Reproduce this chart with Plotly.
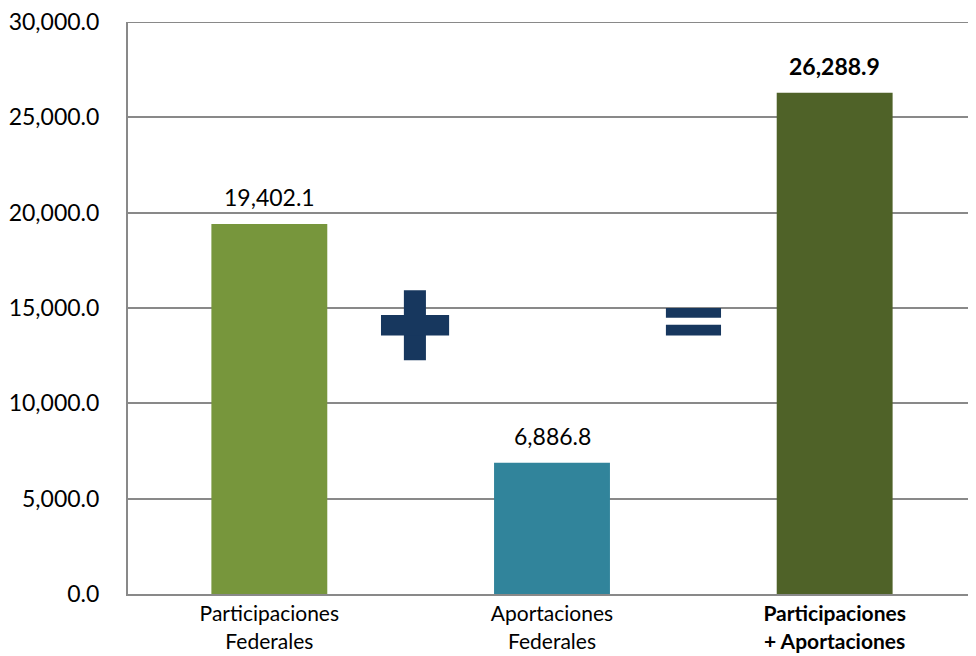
import plotly.graph_objects as go

categories = ["Participaciones<br>Federales", "Aportaciones<br>Federales", "<b>Participaciones</b><br><b>+ Aportaciones</b>"]
values = [19402.1, 6886.8, 26288.9]
value_labels = ["19,402.1", "6,886.8", "<b>26,288.9</b>"]
colors = ["#77963C", "#31849B", "#4F6228"]
tick_vals = [0, 5000, 10000, 15000, 20000, 25000, 30000]
tick_text = ["0.0", "5,000.0", "10,000.0", "15,000.0", "20,000.0", "25,000.0", "30,000.0"]

FONT = "Lato, Carlito, Calibri, sans-serif"
NAVY = "#17375E"
GRID = "#898989"
xpos = [0, 1, 2]

fig = go.Figure()
fig.add_trace(go.Bar(
    x=xpos, y=values, marker=dict(color=colors, line=dict(width=0)),
    width=0.41, hoverinfo="skip",
))

for xi, v, lab in zip(xpos, values, value_labels):
    fig.add_annotation(x=xi, y=v, text=lab, showarrow=False, yanchor="bottom",
                       yshift=11, font=dict(size=23, color="#000000", family=FONT))

# top gridline (at the edge of the range)
fig.add_shape(type="line", xref="paper", yref="y", x0=0, x1=1,
              y0=tick_vals[-1], y1=tick_vals[-1], line=dict(color=GRID, width=2), layer="below")

# plus sign
fig.add_shape(type="rect", xref="x", yref="y", x0=0.476, x1=0.554, y0=12259, y1=15931,
              fillcolor=NAVY, line=dict(width=0), layer="above")
fig.add_shape(type="rect", xref="x", yref="y", x0=0.395, x1=0.636, y0=13552, y1=14638,
              fillcolor=NAVY, line=dict(width=0), layer="above")
# equals sign
fig.add_shape(type="rect", xref="x", yref="y", x0=1.403, x1=1.598, y0=14483, y1=15000,
              fillcolor=NAVY, line=dict(width=0), layer="above")
fig.add_shape(type="rect", xref="x", yref="y", x0=1.403, x1=1.598, y0=13552, y1=14121,
              fillcolor=NAVY, line=dict(width=0), layer="above")

fig.update_layout(
    width=968, height=648,
    margin=dict(l=120, r=0, t=14, b=62, autoexpand=False),
    plot_bgcolor="white", paper_bgcolor="white",
    showlegend=False,
    font=dict(family=FONT, color="#000000"),
    xaxis=dict(range=[-0.5, 2.5], tickmode="array", tickvals=xpos, ticktext=categories,
               showgrid=False, showline=True, linecolor=GRID, linewidth=2,
               ticks="", tickfont=dict(size=21, family=FONT), zeroline=False,
               automargin=False),
    yaxis=dict(range=[0, 30000], tickmode="array", tickvals=tick_vals, ticktext=tick_text,
               showgrid=True, gridcolor=GRID, gridwidth=2,
               showline=True, linecolor=GRID, linewidth=2,
               ticks="", ticklen=0, ticklabelstandoff=22, ticklabeloverflow="allow",
               tickfont=dict(size=23, family=FONT), zeroline=False,
               automargin=False),
)

fig.write_html("out.html")
